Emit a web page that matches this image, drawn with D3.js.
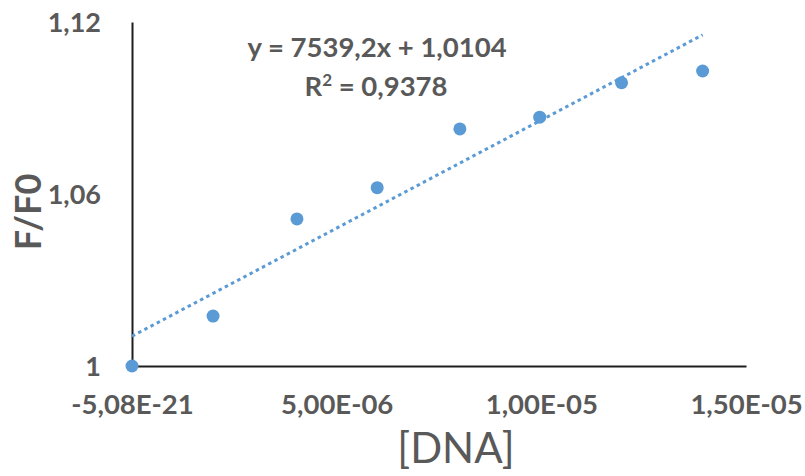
<!DOCTYPE html>
<html>
<head>
<meta charset="utf-8">
<script src="https://cdn.jsdelivr.net/npm/d3@7"></script>
<style>
  html, body { margin: 0; padding: 0; background: #fff; }
  svg { display: block; }
  text { font-family: Lato, "Open Sans", sans-serif; fill: #595959; }
</style>
</head>
<body>
<svg id="chart" width="805" height="476"></svg>
<script>
// ---- data ----
const dnaConc = [0, 1.98e-6, 4.03e-6, 5.99e-6, 8.01e-6, 9.96e-6, 1.196e-5, 1.394e-5];
const ratioF = [1.0, 1.0174, 1.0513, 1.0622, 1.0827, 1.0868, 1.0988, 1.1029];
const xTickValues = [0, 5e-6, 1e-5, 1.5e-5];
const xTickLabels = ["-5,08E-21", "5,00E-06", "1,00E-05", "1,50E-05"];
const yTickValues = [1, 1.06, 1.12];
const yTickLabels = ["1", "1,06", "1,12"];
const trendSlope = 7539.2;
const trendIntercept = 1.0104;
const equationText = "y = 7539,2x + 1,0104";
const r2Value = "0,9378";
const xTitle = "[DNA]";
const yTitle = "F/F0";

// ---- layout ----
(function () {
const svg = d3.select("#chart");
const mLeft = 132, mRight = 746, mTop = 22, mBottom = 366;
const x = d3.scaleLinear().domain([0, 1.5e-5]).range([mLeft, mRight]);
const y = d3.scaleLinear().domain([1, 1.12]).range([mBottom, mTop]);
const blue = "#5B9BD5";

// axes
const xAxis = d3.axisBottom(x).tickValues(xTickValues)
  .tickFormat((d, i) => xTickLabels[i]).tickSize(0).tickPadding(0);
const gx = svg.append("g").attr("transform", `translate(0,${mBottom})`).call(xAxis);
gx.select(".domain").attr("stroke", "#1e1e1e").attr("stroke-width", 2);
gx.selectAll("text").attr("dy", null).attr("y", 48)
  .style("font-family", "Lato, sans-serif").style("font-size", "27.5px")
  .style("font-weight", "bold").attr("fill", "#595959");

const yAxis = d3.axisLeft(y).tickValues(yTickValues)
  .tickFormat((d, i) => yTickLabels[i]).tickSize(0).tickPadding(0);
const gy = svg.append("g").attr("transform", `translate(${mLeft},0)`).call(yAxis);
gy.select(".domain").attr("stroke", "#1e1e1e").attr("stroke-width", 2);
gy.selectAll("text").attr("x", -31).attr("dy", "0.36em")
  .style("font-family", "Lato, sans-serif").style("font-size", "27px")
  .style("font-weight", "bold").attr("fill", "#595959");

// trend line
const xMax = d3.max(dnaConc);
const trendPts = [0, xMax].map(v => [v, trendSlope * v + trendIntercept]);
svg.append("path")
  .datum(trendPts)
  .attr("d", d3.line().x(d => x(d[0])).y(d => y(d[1])))
  .attr("fill", "none").attr("stroke", blue).attr("stroke-width", 3)
  .attr("stroke-dasharray", "3.5 3.5");

// points
svg.append("g").selectAll("circle")
  .data(dnaConc.map((d, i) => [d, ratioF[i]]))
  .join("circle")
  .attr("cx", d => x(d[0])).attr("cy", d => y(d[1]))
  .attr("r", 6.5).attr("fill", blue);

// equation
svg.append("text").attr("x", 377).attr("y", 57)
  .attr("text-anchor", "middle").style("font-size", "27.5px").style("font-weight", "bold")
  .text(equationText);
const r2 = svg.append("text").attr("x", 376).attr("y", 96)
  .attr("text-anchor", "middle").style("font-size", "27.5px").style("font-weight", "bold");
r2.append("tspan").text("R");
r2.append("tspan").attr("dy", -10).style("font-size", "17px").text("2");
r2.append("tspan").attr("dy", 10).text(" = " + r2Value);

// axis titles
svg.append("text").attr("x", 456).attr("y", 463)
  .attr("text-anchor", "middle").style("font-size", "42px")
  .text(xTitle);
svg.append("text")
  .attr("transform", "translate(41,212) rotate(-90)")
  .attr("text-anchor", "middle").style("font-size", "36px").style("font-weight", "bold")
  .text(yTitle);
})();
</script>
</body>
</html>
